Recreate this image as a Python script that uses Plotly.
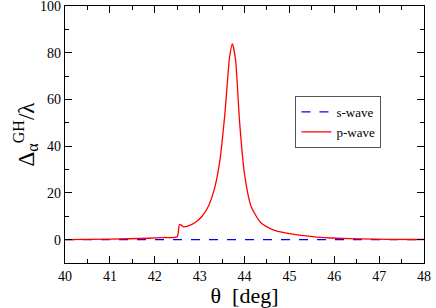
import plotly.graph_objects as go

theta_s = [40, 48]
s_wave = [0, 0]

theta_p = [40.0, 41.0, 41.87, 42.2, 42.50, 42.55, 42.60, 42.64, 42.75, 42.90, 43.05, 43.19, 43.34, 43.45,
           43.56, 43.67, 43.73, 43.80, 43.89, 44.00, 44.15, 44.37, 44.67, 45.18, 45.6, 46.06, 46.6, 47.2, 48.0]
p_wave = [0.0, 0.2, 0.6, 0.9, 1.2, 6.5, 6.1, 5.5, 5.9, 7.3, 9.9, 14.1, 22.5, 33.7,
          53.3, 78.5, 83.8, 77.1, 50.5, 28.1, 14.1, 7.1, 4.0, 2.0, 1.1, 0.6, 0.3, 0.15, 0.05]

y_ticks = [0, 20, 40, 60, 80, 100]
y_minor = [-10, 10, 30, 50, 70, 90]

font_family = "Liberation Serif"

fig = go.Figure()
fig.add_trace(go.Scatter(x=theta_s, y=s_wave, mode="lines", name="s-wave",
                         line=dict(color="#0000ff", width=1.2, dash="dash")))
fig.add_trace(go.Scatter(x=theta_p, y=p_wave, mode="lines", name="p-wave",
                         line=dict(color="#ff0000", width=1.3, shape="spline", smoothing=0.6)))

axis_common = dict(showgrid=False, zeroline=False, showline=True, linecolor="black", linewidth=1.2,
                   mirror="ticks", ticks="inside", ticklen=7, tickcolor="black", tickwidth=1,
                   tickfont=dict(family=font_family, size=14, color="black"))

fig.update_xaxes(range=[40, 48], dtick=1, title=dict(text="θ  [deg]", font=dict(family=font_family, size=22, color="black"), standoff=4),
                 minor=dict(ticks="inside", ticklen=4, dtick=0.5, tickcolor="black"), **axis_common)
# top label (100) is drawn as an annotation because plotly hides a tick label that touches the page edge
fig.update_yaxes(range=[-10, 100], tickmode="array", tickvals=y_ticks,
                 ticktext=[str(v) if v != y_ticks[-1] else "" for v in y_ticks],
                 title=dict(text="Δ<sub>α</sub><sup>GH</sup>/λ", font=dict(family=font_family, size=23, color="black"), standoff=6),
                 minor=dict(ticks="inside", ticklen=4, tickvals=y_minor, tickcolor="black"), **axis_common)

fig.add_annotation(text=str(y_ticks[-1]), xref="paper", yref="y", x=0, y=y_ticks[-1],
                   xanchor="right", yanchor="middle", xshift=-2, showarrow=False,
                   font=dict(family=font_family, size=14, color="black"))

fig.update_layout(width=436, height=308, margin=dict(l=65, r=8, t=5, b=41),
                  plot_bgcolor="white", paper_bgcolor="white",
                  font=dict(family=font_family, color="black"),
                  legend=dict(x=0.642, y=0.65, xanchor="left", yanchor="top",
                              bordercolor="#555555", borderwidth=1, bgcolor="white",
                              font=dict(family=font_family, size=13, color="black"),
                              tracegroupgap=0, itemwidth=30),
                  showlegend=True)

fig.write_html("out.html", config={"displayModeBar": False},
               post_script="document.body.style.margin='0';document.body.style.overflow='hidden';")
